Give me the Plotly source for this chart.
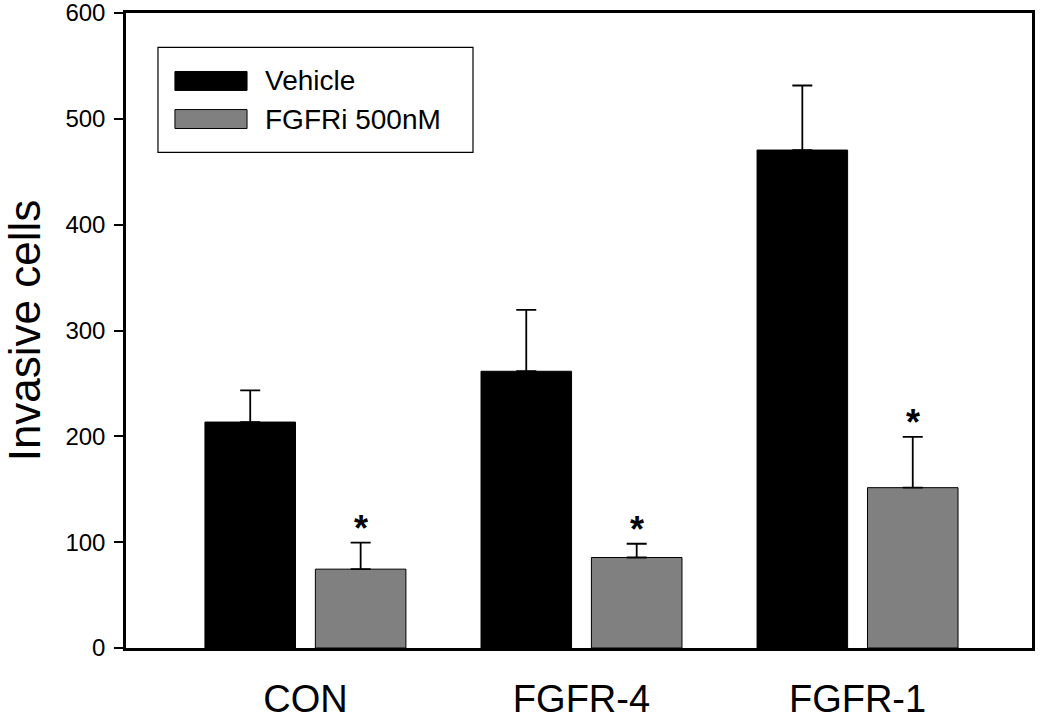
import plotly.graph_objects as go

categories = ["CON", "FGFR-4", "FGFR-1"]
vehicle = [213.5, 261.5, 470.5]
vehicle_err = [30, 58, 61]
fgfri = [74.5, 85.5, 151.5]
fgfri_err = [25, 13, 48]
series_names = ["Vehicle", "FGFRi 500nM"]
significant = ["*", "*", "*"]
y_ticks = [0, 100, 200, 300, 400, 500, 600]

FONT = "Liberation Sans, Arial, sans-serif"
BLACK = "#000000"
GRAY = "#808080"

fig = go.Figure()
fig.add_trace(go.Bar(
    x=categories, y=vehicle, name=series_names[0],
    marker=dict(color=BLACK, line=dict(color=BLACK, width=1)),
    error_y=dict(type="data", array=vehicle_err, arrayminus=[0]*3, symmetric=False,
                 color=BLACK, thickness=1.8, width=10),
    showlegend=False,
))
fig.add_trace(go.Bar(
    x=categories, y=fgfri, name=series_names[1],
    marker=dict(color=GRAY, line=dict(color=BLACK, width=1)),
    error_y=dict(type="data", array=fgfri_err, arrayminus=[0]*3, symmetric=False,
                 color=BLACK, thickness=1.8, width=10),
    showlegend=False,
))

# significance asterisks above FGFRi error bars
for i, (v, e, s) in enumerate(zip(fgfri, fgfri_err, significant)):
    fig.add_annotation(x=i + 0.2, y=v + e, xref="x", yref="y", text="<b>" + s + "</b>",
                       showarrow=False, yanchor="bottom", yshift=-8,
                       font=dict(family=FONT, size=36, color=BLACK))

# manual legend (large swatches as in the original)
fig.add_shape(type="rect", xref="paper", yref="paper",
              x0=0.0353, x1=0.383, y0=0.7806, y1=0.946,
              line=dict(color=BLACK, width=1.2), fillcolor="white")
for k, (name, col) in enumerate(zip(series_names, [BLACK, GRAY])):
    yc = 0.893 - k * 0.06
    fig.add_shape(type="rect", xref="paper", yref="paper",
                  x0=0.054, x1=0.1336, y0=yc - 0.0149, y1=yc + 0.0149,
                  line=dict(color=BLACK, width=1), fillcolor=col)
    fig.add_annotation(xref="paper", yref="paper", x=0.151, y=yc, text=name,
                       showarrow=False, xanchor="left", yanchor="middle",
                       font=dict(family=FONT, size=28, color=BLACK))

fig.update_layout(
    width=1050, height=720,
    margin=dict(l=126, r=18, t=13, b=72),
    paper_bgcolor="white", plot_bgcolor="white",
    barmode="group", bargap=0.2, bargroupgap=0.18,
    font=dict(family=FONT, color=BLACK),
)
fig.update_xaxes(
    range=[-0.65, 2.632], showline=True, linecolor=BLACK, linewidth=2.5,
    mirror=True, ticks="", showgrid=False, zeroline=False, automargin=False,
    tickfont=dict(family=FONT, size=38, color=BLACK), ticklabelstandoff=16,
    ticklabeloverflow="allow",
)
fig.update_yaxes(
    range=[0, 600], tickvals=y_ticks, showline=True, linecolor=BLACK, linewidth=2.5,
    mirror=True, ticks="outside", ticklen=9, tickwidth=2, tickcolor=BLACK,
    showgrid=False, zeroline=False, automargin=False,
    tickfont=dict(family=FONT, size=24, color=BLACK), ticklabelstandoff=4,
    ticklabeloverflow="allow",
    title=dict(text="Invasive cells", font=dict(family=FONT, size=44, color=BLACK), standoff=20),
)

fig.write_html("out.html", config={"displayModeBar": False},
               post_script="document.body.style.margin='0';document.body.style.padding='0';")
